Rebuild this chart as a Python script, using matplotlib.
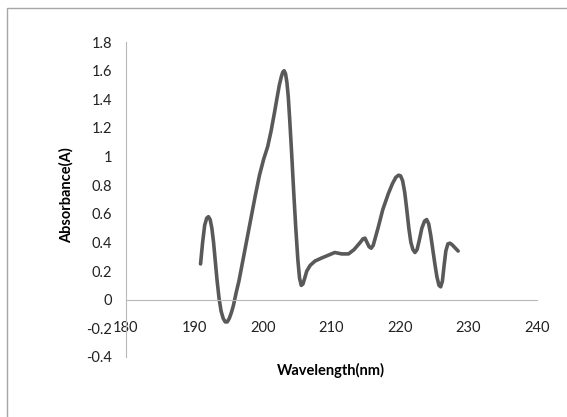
import matplotlib.pyplot as plt
from matplotlib.patches import Rectangle

plt.rcParams['font.family'] = ['Lato', 'DejaVu Sans']

# points
wavelength = [190.9, 191.2, 191.5, 191.8, 192.05, 192.3, 192.55, 192.8, 193.05, 193.3,
              193.6, 193.9, 194.2, 194.5, 194.8, 195.1, 195.4, 195.7, 196.1, 196.5,
              197.1, 197.7, 198.3, 198.9, 199.5, 200.1, 200.7, 201.2, 201.7, 202.1,
              202.4, 202.7, 202.9, 203.1, 203.3, 203.5, 203.7, 203.9, 204.2, 204.5,
              204.8, 205.1, 205.35, 205.6, 205.85, 206.1, 206.4, 206.9, 207.6, 208.5,
              209.5, 210.5, 211.5, 212.5, 213.3, 214.2, 214.6, 214.9, 215.2, 215.5,
              215.8, 216.1, 216.8, 217.5, 218.3, 218.9, 219.4, 219.8, 220.1, 220.4,
              220.7, 221.0, 221.3, 221.6, 221.9, 222.2, 222.5, 222.8, 223.2, 223.6,
              223.9, 224.2, 224.5, 224.8, 225.1, 225.4, 225.7, 225.95, 226.2, 226.45,
              226.7, 227.0, 227.3, 227.6, 227.9, 228.2, 228.5]
absorbance = [0.25, 0.40, 0.52, 0.57, 0.58, 0.56, 0.50, 0.40, 0.27, 0.14,
              0.01, -0.08, -0.13, -0.155, -0.155, -0.13, -0.09, -0.04, 0.05, 0.13,
              0.28, 0.43, 0.58, 0.73, 0.87, 0.98, 1.07, 1.18, 1.31, 1.42,
              1.50, 1.56, 1.59, 1.60, 1.58, 1.52, 1.42, 1.27, 1.02, 0.75,
              0.50, 0.28, 0.15, 0.10, 0.11, 0.15, 0.20, 0.24, 0.27, 0.29,
              0.31, 0.33, 0.32, 0.32, 0.35, 0.40, 0.425, 0.43, 0.40, 0.37,
              0.36, 0.38, 0.50, 0.63, 0.74, 0.81, 0.855, 0.87, 0.865, 0.83,
              0.75, 0.63, 0.50, 0.40, 0.35, 0.33, 0.35, 0.41, 0.50, 0.55,
              0.56, 0.53, 0.45, 0.35, 0.25, 0.16, 0.10, 0.09, 0.13, 0.24,
              0.34, 0.39, 0.395, 0.385, 0.37, 0.355, 0.34]

xticks = [180, 190, 200, 210, 220, 230, 240]
yticks = [-0.4, -0.2, 0, 0.2, 0.4, 0.6, 0.8, 1, 1.2, 1.4, 1.6, 1.8]
ylabels = ['-0.4', '-0.2', '0', '0.2', '0.4', '0.6', '0.8', '1', '1.2', '1.4', '1.6', '1.8']

fig = plt.figure(figsize=(5.67, 4.17), dpi=100)
ax = fig.add_axes([0.222, 0.144, 0.725, 0.755])

# outer chart border (cropped at right / bottom)
fig.patches.append(Rectangle((7/567, -0.1), 1.2, 1 - 8/417 + 0.1, transform=fig.transFigure,
                             fill=False, edgecolor='#a6a6a6', lw=1))

ax.plot(wavelength, absorbance, color='#595959', lw=2.6, solid_joinstyle='round',
        solid_capstyle='round')

ax.set_xlim(180, 240)
ax.set_ylim(-0.4, 1.8)
ax.set_xticks(xticks)
ax.set_yticks(yticks)
ax.set_yticklabels(ylabels)

for s in ['top', 'right']:
    ax.spines[s].set_visible(False)
ax.spines['bottom'].set_position(('data', 0))
ax.spines['left'].set_color('#b8b8b8')
ax.spines['bottom'].set_color('#b8b8b8')
ax.tick_params(axis='x', length=0, pad=15, labelsize=10.5, colors='#222222')
ax.tick_params(axis='y', length=0, pad=10, labelsize=10.5, colors='#222222')

fig.text(331/567, 1 - 370/417, 'Wavelength(nm)', ha='center', va='center',
         fontsize=10.5, fontweight='bold')
fig.text(66/567, 1 - 195/417, 'Absorbance(A)', ha='center', va='center',
         rotation=90, fontsize=10.5, fontweight='bold')

fig.savefig('out.png', dpi=100)
